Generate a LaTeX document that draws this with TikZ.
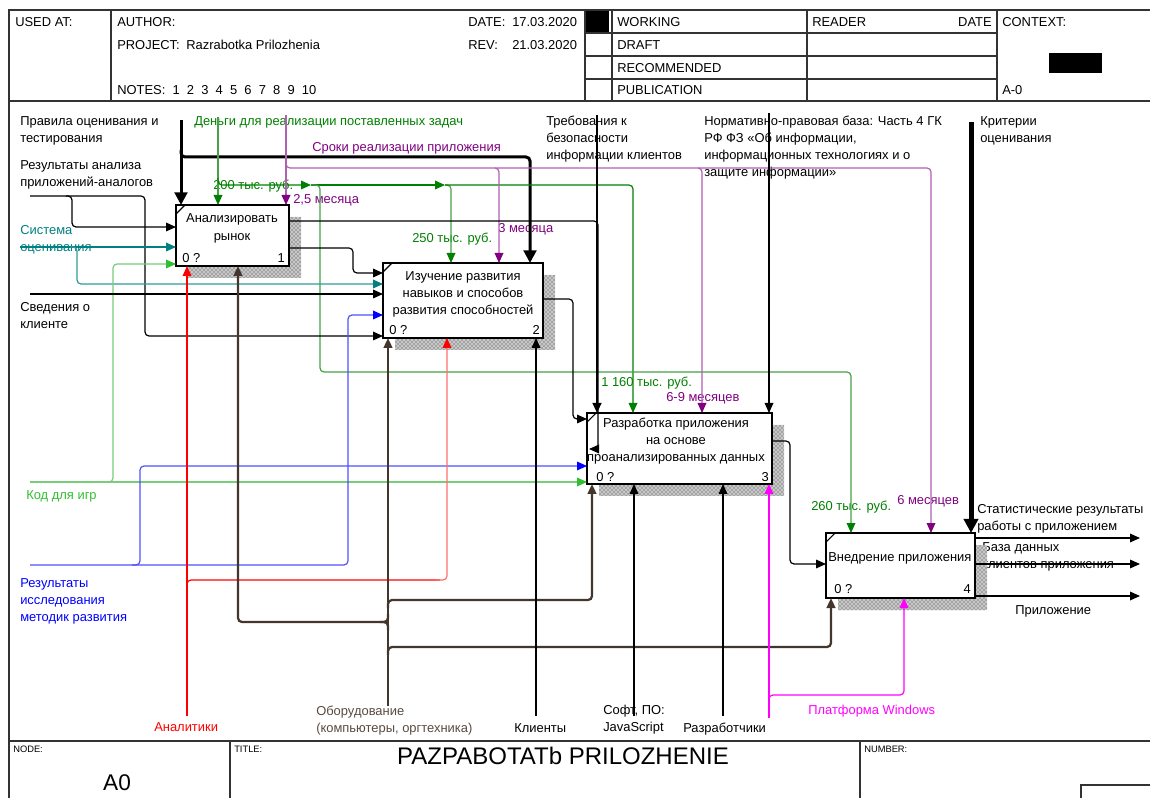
\documentclass[tikz,border=0pt]{standalone}
\usepackage{fontspec}
\setmainfont{Liberation Sans}
\usepackage{graphicx}
\usetikzlibrary{arrows.meta,patterns,calc}
\definecolor{tealc}{RGB}{0,128,128}
\definecolor{dgreen}{RGB}{0,128,0}
\definecolor{mgreen}{RGB}{70,160,70}
\definecolor{lgreen}{RGB}{50,190,50}
\definecolor{lgline}{RGB}{120,205,120}
\definecolor{purp}{RGB}{128,0,128}
\definecolor{lpurp}{RGB}{176,96,176}
\definecolor{bluec}{RGB}{0,0,255}
\definecolor{bline}{RGB}{80,80,255}
\definecolor{redc}{RGB}{255,0,0}
\definecolor{lred}{RGB}{255,110,110}
\definecolor{brownc}{RGB}{68,54,44}
\definecolor{browntext}{RGB}{90,74,64}
\definecolor{magc}{RGB}{255,0,255}
\newcommand\lblf{\fontsize{9.7}{12.75}\selectfont}
\newcommand\hdrf{\fontsize{9.7}{12}\selectfont}
\newcommand\shd[4]{%
  \fill[black!22] (#3,#2+12) -- (#3+12,#2+12) -- (#3+12,#4+12) -- (#1+12,#4+12) -- (#1+12,#4) -- (#3,#4) -- cycle;
  \fill[pattern=crosshatch dots, pattern color=black!80] (#3,#2+12) -- (#3+12,#2+12) -- (#3+12,#4+12) -- (#1+12,#4+12) -- (#1+12,#4) -- (#3,#4) -- cycle;}
\tikzset{
  frame/.style={draw=black!80, line width=1pt},
  lbl/.style={anchor=north west, inner sep=0pt, align=left, font=\lblf},
  hdr/.style={anchor=north west, inner sep=0pt, font=\hdrf},
  ftr/.style={anchor=north west, inner sep=0pt, font=\fontsize{7}{8}\selectfont},
  box/.style={draw, line width=1.5pt, inner sep=0pt, outer sep=0pt, anchor=north west},
  ln/.style={line width=0.9pt, rounded corners=3pt},
  brl/.style={line width=1.7pt, rounded corners=3pt, draw=brownc},
  ah/.style={-{Triangle[length=7.5pt,width=6.5pt,color=#1]}}, ah/.default=black,
  ahb/.style={-{Triangle[length=9.5pt,width=9.5pt]}},
  ahB/.style={-{Triangle[length=10.5pt,width=10.5pt]}},
}
\begin{document}
\begin{tikzpicture}[x=0.75pt,y=-0.75pt]
\useasboundingbox (0,0) rectangle (1150,798);
% ---------- frame / header ----------
\draw[frame] (9,798) -- (9,10) -- (1150,10);
\draw[frame] (9,101) -- (1150,101);
\draw[frame] (9,741) -- (1150,741);
\draw[frame] (111,10) -- (111,101);
\draw[frame] (585,10) -- (585,101);
\draw[frame] (612,10) -- (612,101);
\draw[frame] (807,10) -- (807,101);
\draw[frame] (997,10) -- (997,101);
\draw[frame] (585,33) -- (997,33);
\draw[frame] (585,56) -- (997,56);
\draw[frame] (585,79) -- (997,79);
\fill (586,11) rectangle (609,32);
\fill (1049,53) rectangle (1102,73);
\draw[frame] (230,741) -- (230,798);
\draw[frame] (860,741) -- (860,798);
\draw[frame] (1081,798) -- (1081,785) -- (1150,785);
\node[hdr] (husedat) at (15,17) {USED AT:};
\node[hdr] (hauthor) at (117,17) {AUTHOR:};
\node[hdr] (hproject) at (117,40) {PROJECT:};
\node[hdr] (hprojectv) at (186,40) {Razrabotka Prilozhenia};
\node[hdr] (hnotes) at (117,85) {NOTES:\ \ 1\ \ 2\ \ 3\ \ 4\ \ 5\ \ 6\ \ 7\ \ 8\ \ 9\ \ 10};
\node[hdr] (hdate) at (468,17) {DATE:};
\node[hdr] (hdatev) at (512,17) {17.03.2020};
\node[hdr] (hrev) at (468,40) {REV:};
\node[hdr] (hrevv) at (512,40) {21.03.2020};
\node[hdr] (hworking) at (617,17) {WORKING};
\node[hdr] (hdraft) at (617,40) {DRAFT};
\node[hdr] (hrecom) at (617,63) {RECOMMENDED};
\node[hdr] (hpub) at (617,85) {PUBLICATION};
\node[hdr] (hreader) at (812,17) {READER};
\node[hdr, anchor=north east] (hrdate) at (992,17) {DATE};
\node[hdr] (hcontext) at (1002,17) {CONTEXT:};
\node[hdr] (ha0) at (1002,85) {A-0};
\node[ftr] (fnode) at (13,746) {NODE:};
\node[ftr] (ftitle) at (234,746) {TITLE:};
\node[ftr] (fnumber) at (864,746) {NUMBER:};
\node[inner sep=0pt, font=\fontsize{17}{20}\selectfont] (fa0) at (117,783) {A0};
\node[inner sep=0pt, font=\fontsize{18}{21}\selectfont] (ftitlev) at (563,756) {PAZPABOTATb PRILOZHENIE};
% ---------- labels ----------
\node[lbl] (l1) at (20,116) {Правила оценивания и\\тестирования};
\node[lbl] (l2) at (20,160) {Результаты анализа\\приложений-аналогов};
\node[lbl, text=tealc] (l3) at (20,225) {Система\\оценивания};
\node[lbl] (l4) at (20,302) {Сведения о\\клиенте};
\node[lbl, text=lgreen] (l5) at (26,490) {Код для игр};
\node[lbl, text=bluec] (l6) at (20,578) {Результаты\\исследования\\методик развития};
\node[lbl, text=dgreen] (l7) at (194,116) {Деньги для реализации поставленных задач};
\node[lbl, text=purp] (l8) at (312,142) {Сроки реализации приложения};
\node[lbl, text=dgreen] (l9) at (213,180) {200 тыс. руб.};
\node[lbl, text=purp] (l10) at (293,194) {2,5 месяца};
\node[lbl, text=dgreen] (l11) at (412,233) {250 тыс. руб.};
\node[lbl, text=purp] (l12) at (498,223) {3 месяца};
\node[lbl] (l13) at (546,116) {Требования к\\безопасности\\информации клиентов};
\node[lbl] (l14) at (704,116) {Нормативно-правовая база: Часть 4 ГК\\РФ ФЗ «Об информации,\\информационных технологиях и о\\защите информации»};
\node[lbl] (l15) at (980,116) {Критерии\\оценивания};
\node[lbl, text=dgreen] (l16) at (601,377) {1 160 тыс. руб.};
\node[lbl, text=purp] (l17) at (666,392) {6-9 месяцев};
\node[lbl, text=dgreen] (l18) at (811,501) {260 тыс. руб.};
\node[lbl, text=purp] (l19) at (897,495) {6 месяцев};
\node[lbl] (l20) at (977,504) {Статистические результаты\\работы с приложением};
\node[lbl] (l21) at (982,542) {База данных\\клиентов приложения};
\node[lbl] (l22) at (1015,605) {Приложение};
\node[lbl, text=redc] (l23) at (154,722) {Аналитики};
\node[lbl, text=browntext] (l24) at (316,706) {Оборудование\\(компьютеры, оргтехника)};
\node[lbl] (l25) at (514,723) {Клиенты};
\node[lbl] (l26) at (603,705) {Софт, ПО:\\JavaScript};
\node[lbl] (l27) at (683,723) {Разработчики};
\node[lbl, text=magc] (l28) at (808,705) {Платформа Windows};
% ---------- shadows ----------
\shd{176}{205}{289}{266}
\shd{383}{263}{543}{338}
\shd{587}{413}{772}{484}
\shd{826}{533}{975}{598}
% ---------- boxes ----------
\node[box, minimum width=84.75pt, minimum height=45.75pt] (b1) at (176,205) {};
\node[box, minimum width=120pt, minimum height=56.25pt] (b2) at (383,263) {};
\node[box, minimum width=138.75pt, minimum height=53.25pt] (b3) at (587,413) {};
\node[box, minimum width=111.75pt, minimum height=48.75pt] (b4) at (826,533) {};
\draw[line width=0.8pt] (176,214) -- (185,205);
\draw[line width=0.8pt] (383,272) -- (392,263);
\draw[line width=0.8pt] (587,422) -- (596,413);
\draw[line width=0.8pt] (826,542) -- (835,533);
\node[lbl, anchor=north, align=center, font=\fontsize{9.7}{13.5}\selectfont] (b1t) at (232,213) {Анализировать\\рынок};
\node[lbl] (b1z) at (182,253) {0 ?};
\node[lbl, anchor=north east] (b1n) at (285,253) {1};
\node[lbl, anchor=north, align=center] (b2t) at (463,271) {Изучение развития\\навыков и способов\\развития способностей};
\node[lbl] (b2z) at (389,325) {0 ?};
\node[lbl, anchor=north east] (b2n) at (540,325) {2};
\node[lbl, anchor=north, align=center] (b3t) at (676,418) {Разработка приложения\\на основе\\проанализированных данных};
\node[lbl] (b3z) at (596,472) {0 ?};
\node[lbl, anchor=north east] (b3n) at (769,472) {3};
\node[lbl] (b4t) at (828,552) {Внедрение приложения};
\node[lbl] (b4z) at (834,584) {0 ?};
\node[lbl, anchor=north east] (b4n) at (971,584) {4};
% ---------- controls ----------
\draw[ln, line width=2.25pt, ahb] (181,120) -- (181,0 |- b1.north);
\draw[ln, line width=2.25pt, ahb] (181,150) |- (530,157) -- (530,0 |- b2.north);
\draw[ln, draw=mgreen, ah=dgreen] (218,117) -- (218,0 |- b1.north);
\draw[ln, draw=dgreen, ah=dgreen] (218,178) |- (311,185);
\draw[ln, draw=dgreen, ah=dgreen] (311,185) -- (445,185);
\draw[ln, draw=mgreen, ah=dgreen] (445,185) -| (451,0 |- b2.north);
\draw[ln, draw=dgreen, ah=dgreen] (445,185) -| (633,0 |- b3.north);
\draw[ln, draw=mgreen, ah=dgreen] (311,185) -| (320,372) -| (851,0 |- b4.north);
\draw[ln, draw=lpurp, ah=purp] (286,115) -- (286,0 |- b1.north);
\draw[ln, draw=lpurp, ah=purp] (286,160) |- (499,168) -- (499,0 |- b2.north);
\draw[ln, draw=lpurp, ah=purp] (495,168) -| (702,0 |- b3.north);
\draw[ln, draw=lpurp, ah=purp] (698,168) -| (931,0 |- b4.north);
\draw[ln, line width=1.5pt, ah] (597,115) -- (597,0 |- b3.north);
\draw[ln, ah] (769,113) -- (769,0 |- b3.north);
\draw[ln, line width=3.75pt, ahB] (971,122) -- (971,0 |- b4.north);
% ---------- inputs ----------
\draw[ln, ah] (30,196) -| (72,227) -- (b1.west |- 0,227);
\draw[ln, ah] (66,196) -| (145,336) -- (b2.west |- 0,336);
\draw[ln, draw=tealc, ah=tealc] (20,247) -- (b1.west |- 0,247);
\draw[ln, draw=tealc!80, ah=tealc] (70,247) -| (77,284) -- (b2.west |- 0,284);
\draw[ln, draw=lgline, ah=lgreen] (30,482) -- (b3.west |- 0,482);
\draw[ln, draw=lgline, ah=lgreen] (105,482) -| (113,264) -- (b1.west |- 0,264);
\draw[ln, ah] (30,294) -- (b2.west |- 0,294);
\draw[ln, draw=bline, ah=bluec] (30,565) -| (348,315) -- (b2.west |- 0,315);
\draw[ln, draw=bline, ah=bluec] (132,565) -| (140,466) -- (b3.west |- 0,466);
% ---------- mechanisms ----------
\draw[ln, draw=redc, ah=redc] (187,716) -- (187,0 |- b1.south);
\draw[ln, draw=redc] (187,588) |- (440,580);
\draw[ln, draw=lred, ah=redc] (436,580) -| (447,0 |- b2.south);
\draw[brl, ah=brownc] (388,706) -- (388,0 |- b2.south);
\draw[brl, ah=brownc] (388,608) |- (592,600) -- (592,0 |- b3.south);
\draw[brl, ah=brownc] (388,655) |- (831,647) -- (831,0 |- b4.south);
\draw[brl, ah=brownc] (388,614) |- (238,622) -- (238,0 |- b1.south);
\draw[brl] (388,630) |- (380,622);
\draw[ln, ah] (536,716) -- (536,0 |- b2.south);
\draw[ln, ah] (634,716) -- (634,0 |- b3.south);
\draw[ln, ah] (723,716) -- (723,0 |- b3.south);
\draw[ln, draw=magc, ah=magc] (769,718) -- (769,0 |- b3.south);
\draw[ln, draw=magc, ah=magc] (769,703) |- (904,695) -- (904,0 |- b4.south);
% ---------- outputs ----------
\draw[ln, ah] (b1.east |- 0,248) -| (353,273) -- (b2.west |- 0,273);
\draw[ln, ah] (b1.east |- 0,221) -| (598,449) -- (589,449);
\draw[ln, ah] (b2.east |- 0,299) -| (573,419) -- (b3.west |- 0,419);
\draw[ln, ah] (b3.east |- 0,441) -| (790,564) -- (b4.west |- 0,564);
\draw[ln, ah] (b4.east |- 0,538) -- (1140,538);
\draw[ln, ah] (b4.east |- 0,564) -- (1140,564);
\draw[ln, ah] (b4.east |- 0,596) -- (1140,596);
\end{tikzpicture}
\end{document}
